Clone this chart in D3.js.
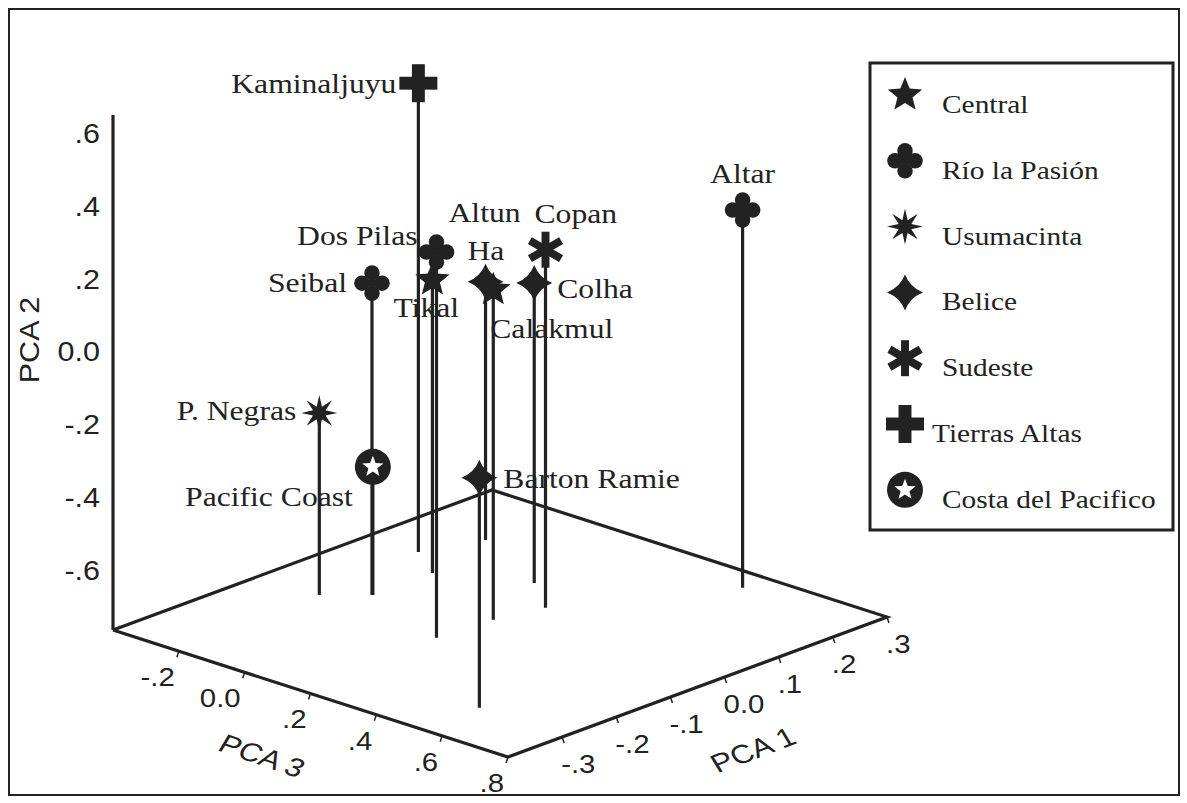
<!DOCTYPE html>
<html><head><meta charset="utf-8">
<script src="https://cdn.jsdelivr.net/npm/d3@7"></script>
<style>
html,body{margin:0;padding:0;background:#fff;}
svg{display:block;}
</style></head>
<body>
<svg id="chart" width="1187" height="803"></svg>
<script>
// ---------------- data ----------------
const sites  = ["Kaminaljuyu","Altar","Seibal","Pacific Coast","P. Negras","Dos Pilas","Tikal","Altun Ha","Calakmul","Barton Ramie","Colha","Copan"];
const groups = ["Tierras Altas","Río la Pasión","Río la Pasión","Costa del Pacifico","Usumacinta","Río la Pasión","Central","Belice","Central","Belice","Belice","Sudeste"];
const pca1   = [0.071, 0.254,-0.084,-0.083,-0.129,-0.143, 0.027, 0.161,-0.046,-0.293, 0.088, 0.031];
const pca2   = [0.524, 0.274, 0.093,-0.412,-0.264, 0.296, 0.041,-0.055, 0.143,-0.132, 0.060, 0.220];
const pca3   = [-0.247,0.437,-0.133,-0.132,-0.219, 0.160,-0.132,-0.191, 0.173, 0.537, 0.077, 0.205];

const legendGroups = ["Central","Río la Pasión","Usumacinta","Belice","Sudeste","Tierras Altas","Costa del Pacifico"];

const pca1Ticks = [-0.3,-0.2,-0.1,0,0.1,0.2,0.3];
const pca1TickLabels = ["-.3","-.2","-.1","0.0",".1",".2",".3"];
const pca2Ticks = [-0.6,-0.4,-0.2,0,0.2,0.4,0.6];
const pca2TickLabels = ["-.6","-.4","-.2","0.0",".2",".4",".6"];
const pca3Ticks = [-0.2,0,0.2,0.4,0.6,0.8];
const pca3TickLabels = ["-.2","0.0",".2",".4",".6",".8"];

// ---------------- layout ----------------
const INK = "#222";
const SX = 1.13; // horizontal stretch of the original figure's text
const origin = [113, 630];          // left floor corner
const v3 = [395, 127];              // PCA 3 edge vector (full domain)
const v1 = [379, -140];             // PCA 1 edge vector (full domain)

const s1 = d3.scaleLinear().domain([-0.4, 0.3]).range([0, 1]);
const s3 = d3.scaleLinear().domain([-0.4, 0.8]).range([0, 1]);
const s2 = d3.scaleLinear().domain([-0.764, 0.651]).range([0, 515]);

function floorPt(p1, p3) {
  const a = s3(p3), b = s1(p1);
  return [origin[0] + a*v3[0] + b*v1[0], origin[1] + a*v3[1] + b*v1[1]];
}
function proj(p1, p2, p3) {
  const f = floorPt(p1, p3);
  return [f[0], f[1] - s2(p2)];
}

const labelLayout = {
  "Kaminaljuyu":  {anchor:"end",   dx:-22, dy:10},
  "Altar":        {anchor:"middle",dx:0,   dy:-27},
  "Dos Pilas":    {anchor:"end",   dx:-19, dy:-7},
  "Seibal":       {anchor:"end",   dx:-25, dy:9},
  "Tikal":        {anchor:"start", dx:-39, dy:37},
  "Altun Ha":     {anchor:"start", dx:-37, dy:-60, lines:[["Altun",0,0],["Ha",19,38]]},
  "Copan":        {anchor:"start", dx:-11, dy:-27},
  "Colha":        {anchor:"start", dx:23,  dy:15},
  "Calakmul":     {anchor:"start", dx:-3,  dy:48},
  "Barton Ramie": {anchor:"start", dx:24,  dy:10},
  "P. Negras":    {anchor:"end",   dx:-23, dy:7},
  "Pacific Coast":{anchor:"end",   dx:-20, dy:39}
};

// ---------------- symbols ----------------
function starPts(n, R, r, rot) {
  const pts = [];
  for (let i = 0; i < 2*n; i++) {
    const ang = rot + i*Math.PI/n;
    const rr = i % 2 === 0 ? R : r;
    pts.push([rr*Math.sin(ang), -rr*Math.cos(ang)]);
  }
  return "M" + pts.map(p => p[0].toFixed(2)+","+p[1].toFixed(2)).join("L") + "Z";
}
function drawSymbol(g, type, R) {
  if (type === "Central") {
    g.append("path").attr("d", starPts(5, R, R*0.44, 0)).attr("fill", INK);
  } else if (type === "Río la Pasión") {
    const o = R*0.56, cr = R*0.43;
    [[0,-o],[o,0],[0,o],[-o,0]].forEach(p => g.append("circle").attr("cx",p[0]).attr("cy",p[1]).attr("r",cr).attr("fill",INK));
    g.append("circle").attr("r", R*0.25).attr("fill", INK);
  } else if (type === "Usumacinta") {
    g.append("path").attr("d", starPts(8, R, R*0.38, 0)).attr("fill", INK);
  } else if (type === "Belice") {
    const c = R*0.28;
    g.append("path").attr("d",
      `M0,${-R} Q${c},${-c} ${R},0 Q${c},${c} 0,${R} Q${-c},${c} ${-R},0 Q${-c},${-c} 0,${-R}Z`).attr("fill", INK);
  } else if (type === "Sudeste") {
    const w = R*0.44;
    [0, 60, -60].forEach(a => g.append("rect").attr("x",-w/2).attr("y",-R).attr("width",w).attr("height",2*R)
      .attr("fill",INK).attr("transform",`rotate(${a})`));
  } else if (type === "Tierras Altas") {
    const w = R*0.68;
    g.append("rect").attr("x",-w/2).attr("y",-R).attr("width",w).attr("height",2*R).attr("fill",INK);
    g.append("rect").attr("y",-w/2).attr("x",-R).attr("height",w).attr("width",2*R).attr("fill",INK);
  } else if (type === "Costa del Pacifico") {
    g.append("circle").attr("r", R).attr("fill", INK);
    g.append("path").attr("d", starPts(5, R*0.62, R*0.26, 0)).attr("fill", "#fff");
  }
}

// ---------------- drawing ----------------
const svg = d3.select("#chart");
svg.append("rect").attr("x",9).attr("y",9).attr("width",1170).attr("height",786)
  .attr("fill","#fff").attr("stroke",INK).attr("stroke-width",2);

const serif = "'Liberation Serif','Times New Roman',serif";
const sans = "'Liberation Sans',Arial,sans-serif";

function txt(x, y, s, opts) {
  const t = svg.append("text")
    .attr("transform", `translate(${x},${y}) ${opts.rotate?`rotate(${opts.rotate})`:""} ${opts.skew?`skewX(${opts.skew})`:""} scale(${SX},1)`)
    .attr("font-family", opts.family).attr("font-size", opts.size).attr("fill", INK)
    .attr("text-anchor", opts.anchor || "start");
  if (opts.dominant) t.attr("dominant-baseline", opts.dominant);
  t.text(s);
  return t;
}

// floor parallelogram
const cL = floorPt(-0.4,-0.4), cF = floorPt(-0.4,0.8), cR = floorPt(0.3,0.8), cB = floorPt(0.3,-0.4);
svg.append("path").attr("d", d3.line()([cL, cB, cR, cF, cL]))
  .attr("fill","none").attr("stroke",INK).attr("stroke-width",3.2).attr("stroke-linejoin","miter");
// vertical axis
const axisTop = proj(-0.4, 0.651, -0.4);
svg.append("line").attr("x1",cL[0]).attr("y1",cL[1]).attr("x2",axisTop[0]).attr("y2",axisTop[1])
  .attr("stroke",INK).attr("stroke-width",3.2);

// PCA2 tick labels
pca2Ticks.forEach((v,i) => {
  const p = proj(-0.4, v, -0.4);
  txt(p[0]-13, p[1], pca2TickLabels[i], {family:sans, size:27, anchor:"end", dominant:"central"});
});
txt(30, 340, "PCA 2", {family:sans, size:27, anchor:"middle", rotate:-90, dominant:"central"});

// PCA3 ticks and labels (edge L->F)
pca3Ticks.forEach((v,i) => {
  const p = floorPt(-0.4, v);
  svg.append("line").attr("x1",p[0]).attr("y1",p[1]).attr("x2",p[0]-2).attr("y2",p[1]+6).attr("stroke",INK).attr("stroke-width",1.5);
  txt(p[0]-4, p[1]+26, pca3TickLabels[i], {family:sans, size:26, anchor:"end", dominant:"central"});
});
txt(262, 756, "PCA 3", {family:sans, size:27, anchor:"middle", rotate:19, skew:-12, dominant:"central"});

// PCA1 ticks and labels (edge F->R)
pca1Ticks.forEach((v,i) => {
  const p = floorPt(v, 0.8);
  svg.append("line").attr("x1",p[0]).attr("y1",p[1]).attr("x2",p[0]+2).attr("y2",p[1]+6).attr("stroke",INK).attr("stroke-width",1.5);
  txt(p[0]-1, p[1]+27, pca1TickLabels[i], {family:sans, size:26, anchor:"start", dominant:"central"});
});
txt(753, 750, "PCA 1", {family:sans, size:27, anchor:"middle", rotate:-21, skew:10, dominant:"central"});

// point data
const pts = sites.map((s,i) => ({site:s, group:groups[i], p1:pca1[i], p2:pca2[i], p3:pca3[i]}));

// labels (drawn under the lines)
pts.forEach(d => {
  const p = proj(d.p1, d.p2, d.p3);
  const lay = labelLayout[d.site];
  if (lay.lines) {
    lay.lines.forEach(l => txt(p[0]+lay.dx+l[1], p[1]+lay.dy+l[2], l[0], {family:serif, size:28, anchor:lay.anchor}));
  } else {
    txt(p[0]+lay.dx, p[1]+lay.dy, d.site, {family:serif, size:28, anchor:lay.anchor});
  }
});

// drop lines
pts.forEach(d => {
  const p = proj(d.p1, d.p2, d.p3), f = floorPt(d.p1, d.p3);
  svg.append("line").attr("x1",p[0]).attr("y1",p[1]).attr("x2",f[0]).attr("y2",f[1])
    .attr("stroke",INK).attr("stroke-width",3.2);
});
// markers
pts.forEach(d => {
  const p = proj(d.p1, d.p2, d.p3);
  const g = svg.append("g").attr("transform",`translate(${p[0]},${p[1]})`);
  drawSymbol(g, d.group, d.group === "Tierras Altas" ? 19 : 18);
});

// legend
svg.append("rect").attr("x",870).attr("y",63).attr("width",303).attr("height",467)
  .attr("fill","#fff").attr("stroke",INK).attr("stroke-width",3);
legendGroups.forEach((gname,i) => {
  const y = 95 + i*65.8;
  const g = svg.append("g").attr("transform",`translate(905,${y})`);
  drawSymbol(g, gname, gname === "Tierras Altas" ? 19 : 18);
  txt(gname === "Tierras Altas" ? 932 : 942, y+18, gname, {family:serif, size:26});
});
</script>
</body></html>
